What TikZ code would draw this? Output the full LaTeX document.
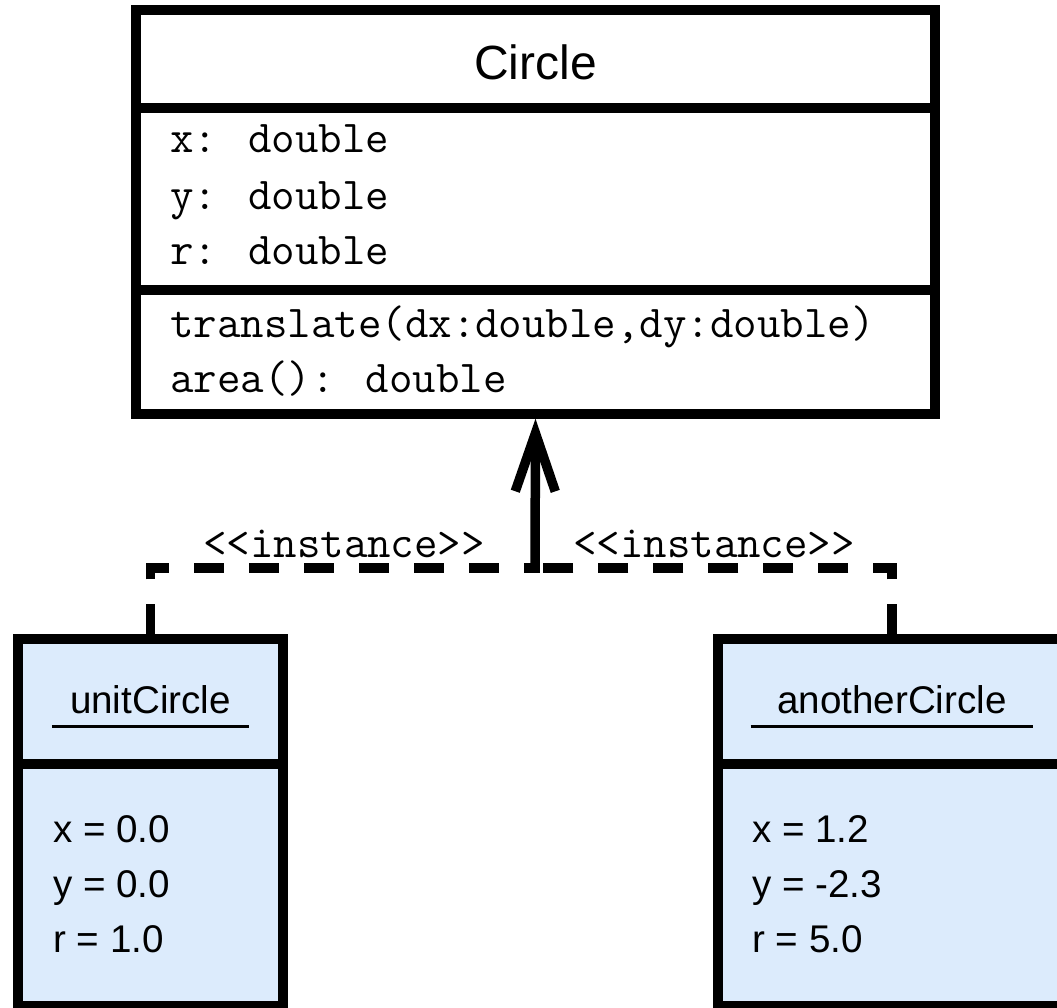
\documentclass[tikz,border=0pt]{standalone}
\usepackage{fontspec}
\setmainfont{Liberation Sans}
\usetikzlibrary{arrows.meta}
\definecolor{objfill}{RGB}{220,235,252}
\begin{document}
\begin{tikzpicture}[x=1pt,y=-1pt,
  box/.style={draw, line width=9.5pt, minimum width=799pt},
  objbox/.style={draw, line width=9.5pt, fill=objfill},
  member/.style={inner sep=0pt, anchor=base west, font=\fontsize{45.6}{52}\ttfamily},
  value/.style={inner sep=0pt, anchor=base west, font=\fontsize{38.6}{46}\selectfont},
  objname/.style={inner ysep=13pt, anchor=base, font=\fontsize{38.6}{46}\selectfont},
  stereo/.style={inner sep=0pt, anchor=base, font=\fontsize{45.6}{52}\ttfamily},
  instline/.style={line width=9.5pt, dash pattern=on 30pt off 25pt},
  realize/.style={line width=9.5pt, -{Straight Barb[length=58pt,width=40pt]}}
]
  \useasboundingbox (0,0) rectangle (1057,1008);
  % class Circle
  \node[box, minimum height=98pt] (circleHead) at (535.5,59) {};
  \node[box, minimum height=182pt] (circleAttrs) at (535.5,199) {};
  \node[box, minimum height=124pt] (circleOps) at (535.5,352) {};
  \node[inner sep=0pt, anchor=base, font=\fontsize{48}{58}\selectfont] (circleName) at (535.5,80) {Circle};
  \node[member] (attrX) at (170,153) {x: double};
  \node[member] (attrY) at (170,210) {y: double};
  \node[member] (attrR) at (170,265) {r: double};
  \node[member] (opTranslate) at (170,337) {translate(dx:double,dy:double)};
  \node[member] (opArea) at (170,392) {area(): double};
  % object unitCircle
  \node[objbox, minimum width=265pt, minimum height=125pt] (unitHead) at (150.5,701.5) {};
  \node[objbox, minimum width=265pt, minimum height=242pt] (unitBody) at (150.5,885) {};
  \node[objname, inner xsep=18pt] (unitName) at (150.5,713) {unitCircle};
  \draw[line width=3pt] (unitName.south west) -- (unitName.south east);
  \node[value] (unitX) at (53,842) {x = 0.0};
  \node[value] (unitY) at (53,897) {y = 0.0};
  \node[value] (unitR) at (53,952) {r = 1.0};
  % object anotherCircle (runs off the right edge)
  \node[objbox, minimum width=348pt, minimum height=125pt] (anotherHead) at (892,701.5) {};
  \node[objbox, minimum width=348pt, minimum height=242pt] (anotherBody) at (892,885) {};
  \node[objname, inner xsep=26.5pt] (anotherName) at (892,713) {anotherCircle};
  \draw[line width=3pt] (anotherName.south west) -- (anotherName.south east);
  \node[value] (anotherX) at (752,842) {x = 1.2};
  \node[value] (anotherY) at (752,897) {y = -2.3};
  \node[value] (anotherR) at (752,952) {r = 5.0};
  % instance links
  \coordinate (join) at (535,568);
  \draw[instline] (unitHead.north) |- (join);
  \draw[instline] (anotherHead.north) |- (join);
  \draw[realize] ([yshift=-4.75pt]join) -- (circleOps.south);
  \node[stereo] (instLeft) at (344,557) {<<instance>>};
  \node[stereo] (instRight) at (714,557) {<<instance>>};
\end{tikzpicture}
\end{document}
